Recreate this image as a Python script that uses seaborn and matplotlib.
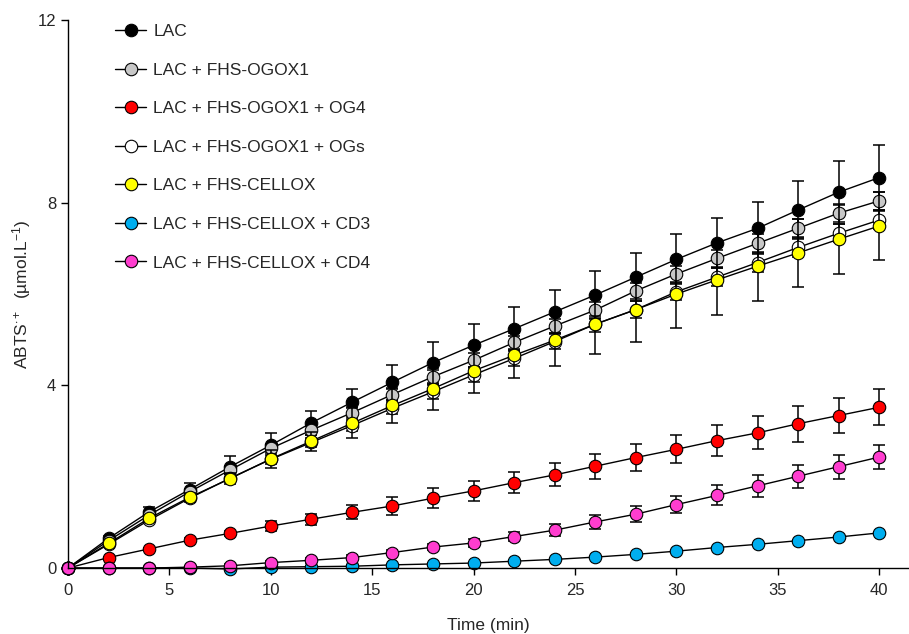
import numpy as np
import pandas as pd
import matplotlib
matplotlib.use("Agg")
import matplotlib.pyplot as plt
import seaborn as sns

# time points (min)
time = list(range(0, 42, 2))

labels = [
    "LAC",
    "LAC + FHS-OGOX1",
    "LAC + FHS-OGOX1 + OG4",
    "LAC + FHS-OGOX1 + OGs",
    "LAC + FHS-CELLOX",
    "LAC + FHS-CELLOX + CD3",
    "LAC + FHS-CELLOX + CD4",
]
colors = ["#000000", "#c8c8c8", "#ff0000", "#ffffff", "#ffff00", "#00aeef", "#ff3dcf"]

lac = [0, 0.65, 1.23, 1.72, 2.22, 2.69, 3.18, 3.63, 4.07, 4.50, 4.88, 5.24, 5.61, 5.98, 6.37, 6.76, 7.12, 7.44, 7.84, 8.23, 8.55]
lac_err = [0, 0.05, 0.10, 0.15, 0.23, 0.27, 0.27, 0.30, 0.38, 0.46, 0.47, 0.47, 0.47, 0.53, 0.53, 0.55, 0.55, 0.57, 0.63, 0.69, 0.72]

ogox = [0, 0.60, 1.16, 1.67, 2.15, 2.62, 3.02, 3.40, 3.80, 4.19, 4.55, 4.94, 5.30, 5.65, 6.07, 6.44, 6.78, 7.11, 7.44, 7.77, 8.04]
ogox_err = [0, 0.03, 0.05, 0.07, 0.08, 0.10, 0.10, 0.12, 0.12, 0.14, 0.15, 0.15, 0.16, 0.17, 0.18, 0.18, 0.19, 0.20, 0.20, 0.20, 0.20]

ogox_og4 = [0, 0.23, 0.42, 0.61, 0.76, 0.92, 1.07, 1.22, 1.36, 1.53, 1.69, 1.87, 2.04, 2.23, 2.42, 2.60, 2.79, 2.96, 3.16, 3.34, 3.52]
ogox_og4_err = [0, 0.02, 0.03, 0.04, 0.05, 0.10, 0.12, 0.15, 0.20, 0.22, 0.22, 0.23, 0.25, 0.27, 0.30, 0.31, 0.34, 0.36, 0.39, 0.39, 0.39]

ogox_ogs = [0, 0.52, 1.05, 1.53, 1.97, 2.38, 2.75, 3.12, 3.50, 3.86, 4.23, 4.59, 4.96, 5.34, 5.66, 6.05, 6.37, 6.69, 7.02, 7.33, 7.62]
ogox_ogs_err = [0, 0.03, 0.05, 0.07, 0.08, 0.10, 0.10, 0.12, 0.13, 0.15, 0.15, 0.16, 0.17, 0.18, 0.18, 0.19, 0.20, 0.20, 0.20, 0.20, 0.20]

cellox = [0, 0.54, 1.09, 1.55, 1.96, 2.39, 2.78, 3.17, 3.56, 3.93, 4.32, 4.66, 4.99, 5.34, 5.66, 6.00, 6.31, 6.61, 6.90, 7.20, 7.49]
cellox_err = [0, 0.05, 0.08, 0.10, 0.12, 0.20, 0.21, 0.33, 0.39, 0.46, 0.49, 0.49, 0.56, 0.65, 0.71, 0.74, 0.76, 0.76, 0.74, 0.76, 0.74]

cellox_cd3 = [0, 0, 0, 0, -0.02, 0.02, 0.03, 0.04, 0.07, 0.09, 0.11, 0.15, 0.19, 0.24, 0.30, 0.37, 0.45, 0.52, 0.60, 0.68, 0.77]
cellox_cd3_err = [0, 0.01, 0.01, 0.01, 0.01, 0.01, 0.01, 0.02, 0.02, 0.02, 0.02, 0.02, 0.02, 0.02, 0.02, 0.02, 0.02, 0.02, 0.02, 0.02, 0.02]

cellox_cd4 = [0, 0, 0, 0.02, 0.05, 0.12, 0.17, 0.23, 0.34, 0.46, 0.55, 0.69, 0.83, 1.01, 1.18, 1.39, 1.59, 1.80, 2.01, 2.22, 2.43]
cellox_cd4_err = [0, 0.01, 0.01, 0.02, 0.03, 0.04, 0.05, 0.05, 0.06, 0.07, 0.08, 0.10, 0.13, 0.16, 0.18, 0.19, 0.22, 0.24, 0.25, 0.26, 0.27]

means = [lac, ogox, ogox_og4, ogox_ogs, cellox, cellox_cd3, cellox_cd4]
errs = [lac_err, ogox_err, ogox_og4_err, ogox_ogs_err, cellox_err, cellox_cd3_err, cellox_cd4_err]

sns.set_style("ticks")
plt.rcParams["font.family"] = ["Liberation Sans", "DejaVu Sans"]
plt.rcParams["mathtext.fontset"] = "custom"
plt.rcParams["mathtext.rm"] = "Liberation Sans"
plt.rcParams["mathtext.it"] = "Liberation Sans:italic"

fig = plt.figure(figsize=(9.09, 6.34), dpi=100)
ax = fig.add_axes([0.0748, 0.104, 0.9252, 0.8644])

for lab, col, m, e in zip(labels, colors, means, errs):
    df = pd.DataFrame({"time": time, "abts": m})
    ax.errorbar(time, m, yerr=e, fmt="none", ecolor="black", elinewidth=1.1,
                capsize=4, capthick=1.1, clip_on=False)
    sns.lineplot(data=df, x="time", y="abts", ax=ax, color="black", lw=1,
                 marker="o", markersize=9, markerfacecolor=col,
                 markeredgecolor="black", markeredgewidth=0.8,
                 label=lab, errorbar=None, clip_on=False)

ax.set_xlim(0, 41.47)
ax.set_ylim(0, 12)
ax.set_xticks(range(0, 45, 5))
ax.set_yticks([0, 4, 8, 12])
ax.tick_params(labelsize=12, length=5, width=1, color="black", direction="out")
ax.tick_params(axis="x", pad=6)
ax.spines["top"].set_visible(False)
ax.spines["right"].set_visible(False)
for s in ["left", "bottom"]:
    ax.spines[s].set_linewidth(1)
    ax.spines[s].set_color("black")

ax.set_xlabel("Time (min)", fontsize=12.5, labelpad=14)
ax.set_ylabel(r"ABTS$^{\cdot+}$  (µmol.L$^{-1}$)", fontsize=12.5, labelpad=3)

ax.legend(loc="upper left", bbox_to_anchor=(0.056, 0.993), frameon=False,
          fontsize=12.5, labelspacing=1.35, handlelength=1.8,
          handletextpad=0.4, borderpad=0, borderaxespad=0)

fig.savefig("out.png", dpi=100)
